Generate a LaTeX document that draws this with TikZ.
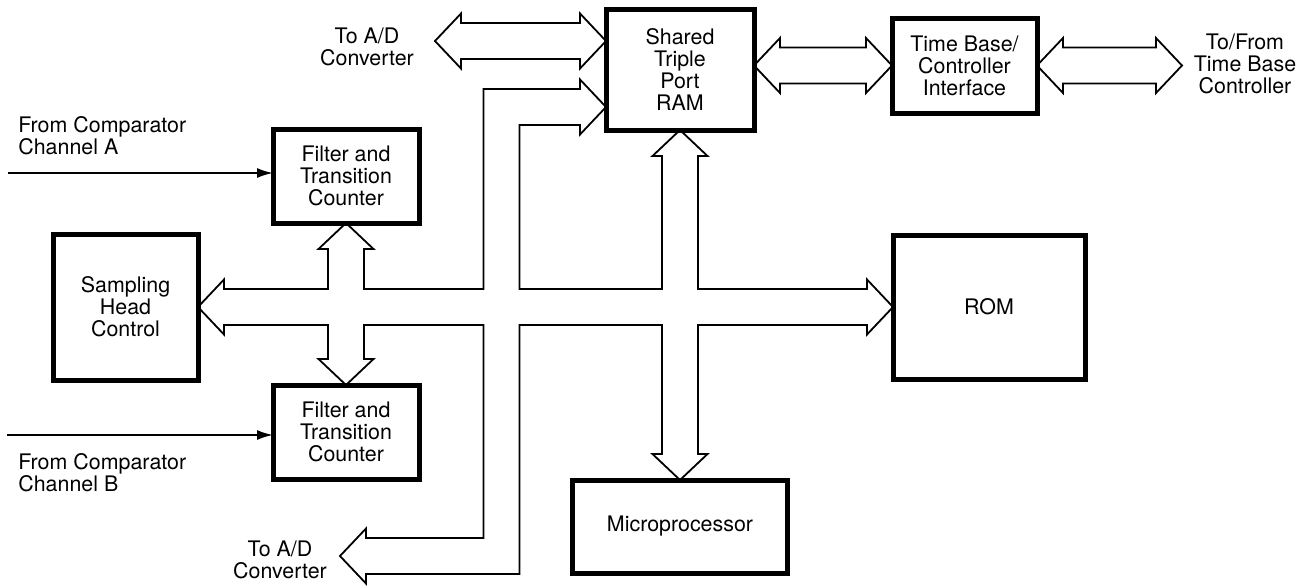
\documentclass[tikz,border=0pt]{standalone}
\usepackage{fontspec}
\setmainfont{TeX Gyre Heros}
\usetikzlibrary{arrows.meta,positioning,calc}

\begin{document}
\begin{tikzpicture}[x=0.5pt,y=-0.5pt,font=\fontsize{10.7}{11}\selectfont]
  \tikzstyle{blk}=[draw,line width=2.5pt,align=center,inner sep=0pt,outer sep=0pt]
  \tikzstyle{bus}=[draw,line width=0.9pt,line join=miter]
  \tikzstyle{sig}=[line width=0.9pt,-{Latex[length=8pt,width=5pt]}]
  \tikzstyle{lbl}=[align=center,inner sep=0pt]
  \useasboundingbox (0,0) rectangle (1306,585);
  % blocks
  \node[blk,minimum width=74pt,minimum height=60.5pt] (ram) at (680,69.5) {Shared\\Triple\\Port\\RAM};
  \node[blk,minimum width=72.5pt,minimum height=47.5pt] (tbc) at (964.5,65.5) {Time Base/\\Controller\\Interface};
  \node[blk,minimum width=96pt,minimum height=72pt] (rom) at (989,307) {ROM};
  \node[blk,minimum width=107.5pt,minimum height=46.5pt] (mup) at (680,526.5) {Microprocessor};
  \node[blk,minimum width=72.5pt,minimum height=73pt] (shc) at (125.5,307) {Sampling\\Head\\Control};
  \node[blk,minimum width=73pt,minimum height=47pt] (ftcA) at (346,176) {Filter and\\Transition\\Counter};
  \node[blk,minimum width=73pt,minimum height=47pt,below=81pt of ftcA] (ftcB) {Filter and\\Transition\\Counter};
  % bus ends
  \coordinate (adA) at (435,41);
  \coordinate (adB) at (340,556);
  \coordinate (tbx) at (1182,65.5);
  \coordinate (ramL) at (ram.west |- adA);
  \coordinate (ramR) at (ram.east |- tbc.west);
  \coordinate (ramI) at ($(ram.west)+(0,37.5)$);
  \coordinate (inA) at (8,173);
  \coordinate (inB) at (7,435);
  % labels
  \node[lbl] (adAtxt) at (367,47) {To A/D\\Converter};
  \node[lbl] (adBtxt) at (280,560) {To A/D\\Converter};
  \node[lbl] (tbxtxt) at (1245,64) {To/From\\Time Base\\Controller};
  \node[lbl,align=left,anchor=west] (chA) at (18,136) {From Comparator\\Channel A};
  \node[lbl,align=left,anchor=west] (chB) at (18,473) {From Comparator\\Channel B};
  % comparator inputs
  \draw[sig] (inA) -- (inA -| ftcA.west);
  \draw[sig] (inB) -- (inB -| ftcB.west);
  % double arrows
  \foreach \a/\b in {adA/ramL,ramR/tbc.west,tbc.east/tbx}
    \draw[bus] (\a) -- ($(\a)+(26,-27.5)$) -- ($(\a)+(26,-18)$) -- ($(\b)+(-26,-18)$)
      -- ($(\b)+(-26,-27.5)$) -- (\b) -- ($(\b)+(-26,27.5)$) -- ($(\b)+(-26,18)$)
      -- ($(\a)+(26,18)$) -- ($(\a)+(26,27.5)$) -- cycle;
  % main bus
  \draw[bus] (shc.east) -- (224,279.5) -- (224,289) -- (328,289) -- (328,249) -- (318.5,249)
    -- (ftcA.south) -- (373.5,249) -- (364,249) -- (364,289)
    -- (483.5,289) -- (483.5,89) -- (580,89) -- (580,79.5) -- (ramI) -- (580,134.5) -- (580,125)
    -- (519.5,125) -- (519.5,289)
    -- (662,289) -- (662,156) -- (652.5,156) -- (ram.south) -- (707.5,156) -- (698,156) -- (698,289)
    -- (867,289) -- (867,279.5) -- (rom.west) -- (867,334.5) -- (867,325)
    -- (698,325) -- (698,454) -- (707.5,454) -- (mup.north) -- (652.5,454) -- (662,454) -- (662,325)
    -- (519.5,325) -- (519.5,574) -- (366,574) -- (366,583.5) -- (adB) -- (366,528.5) -- (366,538)
    -- (483.5,538) -- (483.5,325)
    -- (364,325) -- (364,359) -- (373.5,359) -- (ftcB.north) -- (318.5,359) -- (328,359) -- (328,325)
    -- (224,325) -- (224,334.5) -- cycle;
\end{tikzpicture}
\end{document}
